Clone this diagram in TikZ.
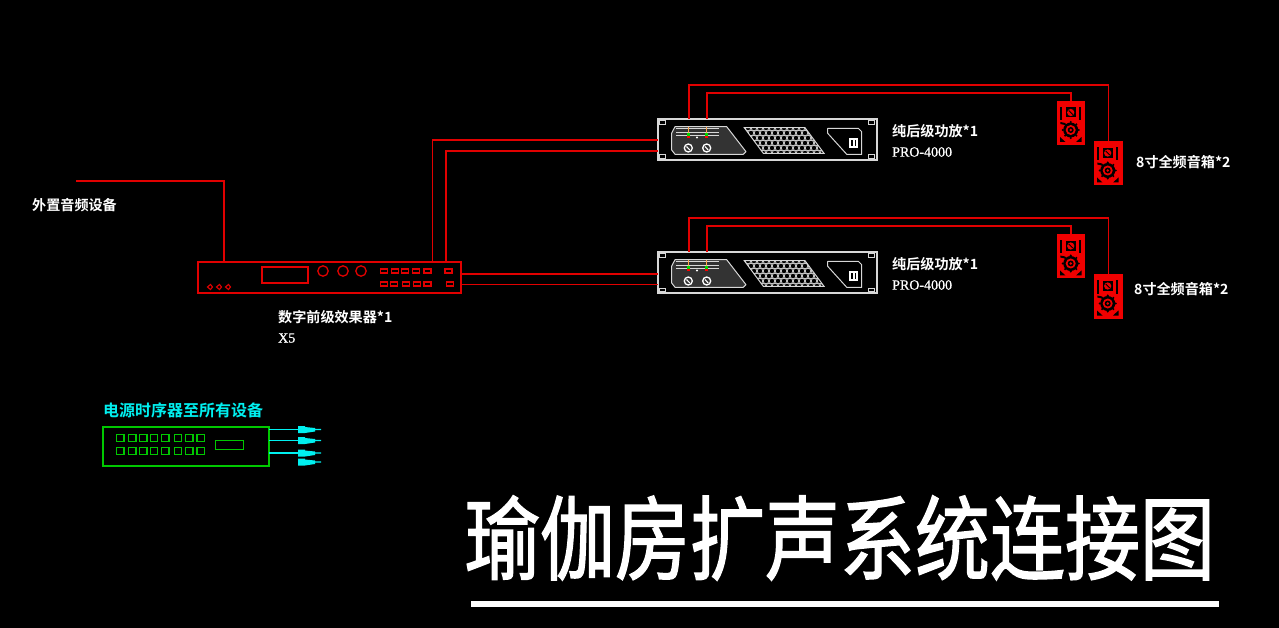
\documentclass[tikz,border=0pt]{standalone}
\usepackage{fontspec}
\usepackage{graphicx}
\setmainfont{Liberation Serif}
\newfontfamily\cjkb{Noto Sans CJK SC}[BoldFont={* Bold}]
\newfontfamily\cjktitle{Noto Sans CJK SC}[FakeBold=1.6]
\newfontfamily\latinb{Liberation Serif}[FakeBold=0.8]
\definecolor{wirered}{RGB}{225,0,0}
\definecolor{spkred}{RGB}{240,0,0}
\definecolor{paneldark}{RGB}{51,51,51}
\definecolor{dimwhite}{RGB}{215,215,215}
\definecolor{powgreen}{RGB}{0,200,0}
\definecolor{powcyan}{RGB}{0,240,240}
\tikzset{
  x=1pt,y=-1pt,
  wire/.style={draw=wirered,line width=1.3pt,line join=miter},
  devbox/.style={draw=wirered,line width=1.5pt,inner sep=0pt,minimum width=263pt,minimum height=31pt},
  ampbox/.style={draw=dimwhite,line width=1.2pt,inner sep=0pt,minimum width=219pt,minimum height=41pt},
  spkbox/.style={fill=spkred,inner sep=0pt,minimum width=28.5pt,minimum height=44pt},
  powbox/.style={draw=powgreen,line width=1.5pt,inner sep=0pt,minimum width=166pt,minimum height=39pt},
  cjklabel/.style={text=white,inner sep=0pt,anchor=west,font=\cjkb\bfseries\fontsize{14.1}{16}\selectfont},
  latlabel/.style={text=white,inner sep=0pt,anchor=west,font=\latinb\fontsize{14}{16}\selectfont},
  fxpart/.style={draw=wirered,line width=1.3pt},
  amppart/.style={draw=dimwhite,line width=1pt},
  powpart/.style={draw=powgreen,line width=1.4pt},
  powline/.style={draw=powcyan,line width=1.2pt},
  plugbody/.style={fill=powcyan,draw=none},
}
\newcommand{\ampdetail}[2]{%
 \begin{scope}[shift={(#1,#2)}]
  \foreach \ex/\ey in {1/1.7,210/1.7,1/36,210/36}{\draw[amppart] (\ex,\ey) rectangle ++(6,3.5);}
  \draw[amppart,fill=paneldark,line join=round] (13.7,14) -- (17,7.7) -- (68.7,7.7) -- (88,32.7) -- (85.3,35.3) -- (17,35.3) -- (13.7,31) -- cycle;
  \foreach \my in {10,13.3,17}{\draw[dimwhite,line width=1pt] (18,\my) -- (61,\my);}
  \foreach \mx in {30.3,48.7}{
    \draw[orange!70!white,line width=1.2pt] (\mx,7.7) -- (\mx,14);
    \fill[green!85!black] (\mx-1.5,14) rectangle (\mx+1.5,17);
    \fill[red] (\mx-1.7,17) rectangle (\mx+1.7,19.5);
    \draw[white,line width=1.3pt] (\mx,29) circle (4pt);
    \draw[white,line width=1.1pt] (\mx-1.8,27.5) -- (\mx+1.5,31);
  }
  \fill[white] (39,18.5) circle (1.2pt);
  \begin{scope}
   \clip (86.3,8.7) -- (147,8.7) -- (166,34.3) -- (105.3,34.3) -- cycle;
   \foreach \r in {0,...,5}{\foreach \c in {0,...,14}{
     \pgfmathsetmacro{\hx}{84+\c*6+mod(\r,2)*3}
     \pgfmathsetmacro{\hy}{9+\r*5}
     \draw[dimwhite,line width=.75pt] (\hx,\hy) circle (2.8pt);}}
  \end{scope}
  \draw[amppart] (86.3,8.7) -- (147,8.7) -- (166,34.3) -- (105.3,34.3) -- cycle;
  \draw[amppart,line join=round] (169.7,9.3) -- (200.3,9.3) -- (203.7,12.7) -- (203.7,35.3) -- (188.7,35.3) -- (169.7,14.3) -- cycle;
  \fill[white] (191,19.3) rectangle (200.3,29.3);
  \fill[black] (193,21) rectangle (194.6,27);
  \fill[black] (196.6,21) rectangle (198.2,27);
 \end{scope}}
\newcommand{\spkdetail}[2]{%
 \begin{scope}[shift={(#1,#2)}]
  \fill[black] (9,6.5) rectangle (19,16.5);
  \fill[spkred] (13.7,11.5) circle (3.6pt);
  \draw[black,line width=.9pt] (11.6,9.4) -- (15.8,13.6);
  \fill[black] (3.3,6) rectangle (5.3,19);
  \fill[black] (22.2,6) rectangle (24.2,19);
  \fill[black] (3.3,21) -- (8,22) -- (8,24) -- (3.3,23) -- cycle;
  \fill[black] (13.7,29) circle (7.5pt);
  \foreach \ga in {0,45,...,315}{\fill[black] (13.7,29) ++(\ga:8pt) circle (1.1pt);}
  \fill[spkred] (13.7,29) circle (5pt);
  \fill[black] (13.7,29) circle (3pt);
  \fill[spkred] (13.7,29) circle (1.4pt);
  \fill[black] (3,41) -- (3,36) -- (8.5,41) -- cycle;
  \fill[black] (24.5,41) -- (24.5,36) -- (19,41) -- cycle;
 \end{scope}}
\newcommand{\plug}[1]{\fill[plugbody] (298,#1-3.5) -- (305,#1-3.5) -- (305,#1-2.5) -- (315,#1-1.5) -- (315,#1-.7) -- (321,#1-.7) -- (321,#1+.7) -- (315,#1+.7) -- (315,#1+2) -- (305,#1+3.5) -- (298,#1+3.5) -- cycle;}
\begin{document}
\begin{tikzpicture}
\useasboundingbox (0,0) rectangle (1279,628);
\fill[black] (0,0) rectangle (1279,628);
% devices
\node[devbox] (fx) at (329.5,277.5) {};
\node[ampbox] (amp1) at (767.5,139.5) {};
\node[ampbox] (amp2) at (767.5,272.5) {};
\node[spkbox] (s1a) at (1071,123) {};
\node[spkbox] (s1b) at (1108.5,163.5) {};
\node[spkbox] (s2a) at (1071,256.5) {};
\node[spkbox] (s2b) at (1108.5,296.5) {};
\node[powbox] (pow) at (186,446.5) {};
% effects unit details
\draw[fxpart] (262,267) rectangle (308,283);
\foreach \kx in {323,343,361}{\draw[fxpart] (\kx,271) circle (5.2pt);}
\foreach \bx in {384,395,405,416,427.5,448.5}{\draw[fxpart] (\bx-3.5,269) rectangle (\bx+3.5,273);}
\foreach \bx in {384,394,406,417,427.5,450}{\draw[fxpart] (\bx-3.5,282) rectangle (\bx+3.5,286);}
\foreach \tx in {210,219,228}{\draw[fxpart,line width=1.1pt] (\tx-2.5,287) -- (\tx+.5,284.5) -- (\tx+2.5,287) -- (\tx+.5,289.5) -- cycle;}
% amp and speaker details
\ampdetail{658}{119}
\ampdetail{658}{252}
\spkdetail{1057}{101}
\spkdetail{1094}{141.5}
\spkdetail{1057}{234.5}
\spkdetail{1094}{274.5}
% power sequencer details
\foreach \py in {438,451}{\foreach \px in {120.3,132.3,143.3,154,165.3,178,189.3,200.7}{\draw[powpart] (\px-3.6,\py-3.3) rectangle (\px+3.6,\py+3.3);}}
\draw[powpart] (215.7,440.3) rectangle (243.3,449.7);
% named ports
\coordinate (extfree) at (76,181);
\coordinate (extcorner) at (224,181);
\coordinate (fxin) at (224,262);
\coordinate (fxo1) at (432.5,262);
\coordinate (fxo1c) at (432.5,140);
\coordinate (a1in1) at (658,140);
\coordinate (fxo2) at (446,262);
\coordinate (fxo2c) at (446,151);
\coordinate (a1in2) at (658,151);
\coordinate (fxo3) at (461,274);
\coordinate (a2in1) at (658,274);
\coordinate (fxo4) at (461,284.5);
\coordinate (a2in2) at (658,284.5);
% connectors
\draw[wire] (extfree) -- (extcorner) -- (fxin);
\draw[wire] (fxo1) -- (fxo1c) -- (a1in1);
\draw[wire] (fxo2) -- (fxo2c) -- (a1in2);
\draw[wire] (fxo3) -- (a2in1);
\draw[wire] (fxo4) -- (a2in2);
\coordinate (a1o1) at (689,119);
\coordinate (a1o1c) at (689,85);
\coordinate (a1o1d) at (1108.5,85);
\coordinate (a1o2) at (707,119);
\coordinate (a1o2c) at (707,93);
\coordinate (a1o2d) at (1071,93);
\draw[wire] (a1o1) -- (a1o1c) -- (a1o1d) -- (s1b.north);
\draw[wire] (a1o2) -- (a1o2c) -- (a1o2d) -- (s1a.north);
\coordinate (a2o1) at (689,252);
\coordinate (a2o1c) at (689,218);
\coordinate (a2o1d) at (1108.5,218);
\coordinate (a2o2) at (707,252);
\coordinate (a2o2c) at (707,226);
\coordinate (a2o2d) at (1071,226);
\draw[wire] (a2o1) -- (a2o1c) -- (a2o1d) -- (s2b.north);
\draw[wire] (a2o2) -- (a2o2c) -- (a2o2d) -- (s2a.north);
% power outputs
\coordinate (po1) at (269,429.5);
\coordinate (pe1) at (298,429.5);
\coordinate (po2) at (269,440.5);
\coordinate (pe2) at (298,440.5);
\coordinate (po3) at (269,453);
\coordinate (pe3) at (298,453);
\draw[powline] (po1) -- (pe1);
\draw[powline] (po2) -- (pe2);
\draw[powline] (po3) -- (pe3);
\plug{429.5}
\plug{440.5}
\plug{453}
\plug{462}
% labels
\node[cjklabel] (lext) at (32,205) {外置音频设备};
\node[cjklabel] (lfx) at (278,317) {数字前级效果器*1};
\node[latlabel] (lfx2) at (278,338) {X5};
\node[cjklabel] (la1) at (892,131) {纯后级功放*1};
\node[latlabel] (la1b) at (892,152) {PRO-4000};
\node[cjklabel] (la2) at (892,264) {纯后级功放*1};
\node[latlabel] (la2b) at (892,285) {PRO-4000};
\node[cjklabel] (ls1) at (1136,162) {8寸全频音箱*2};
\node[cjklabel] (ls2) at (1134,289) {8寸全频音箱*2};
\node[cjklabel,text=powcyan,font=\cjkb\bfseries\fontsize{16}{18}\selectfont] (lpow) at (103,410) {电源时序器至所有设备};
\node[inner sep=0pt,text=white,anchor=center] (title) at (840,538) {\scalebox{1}[1.22]{\cjktitle\fontsize{75}{80}\selectfont 瑜伽房扩声系统连接图}};
\fill[white] (471,601) rectangle (1219,607);
\end{tikzpicture}
\end{document}
